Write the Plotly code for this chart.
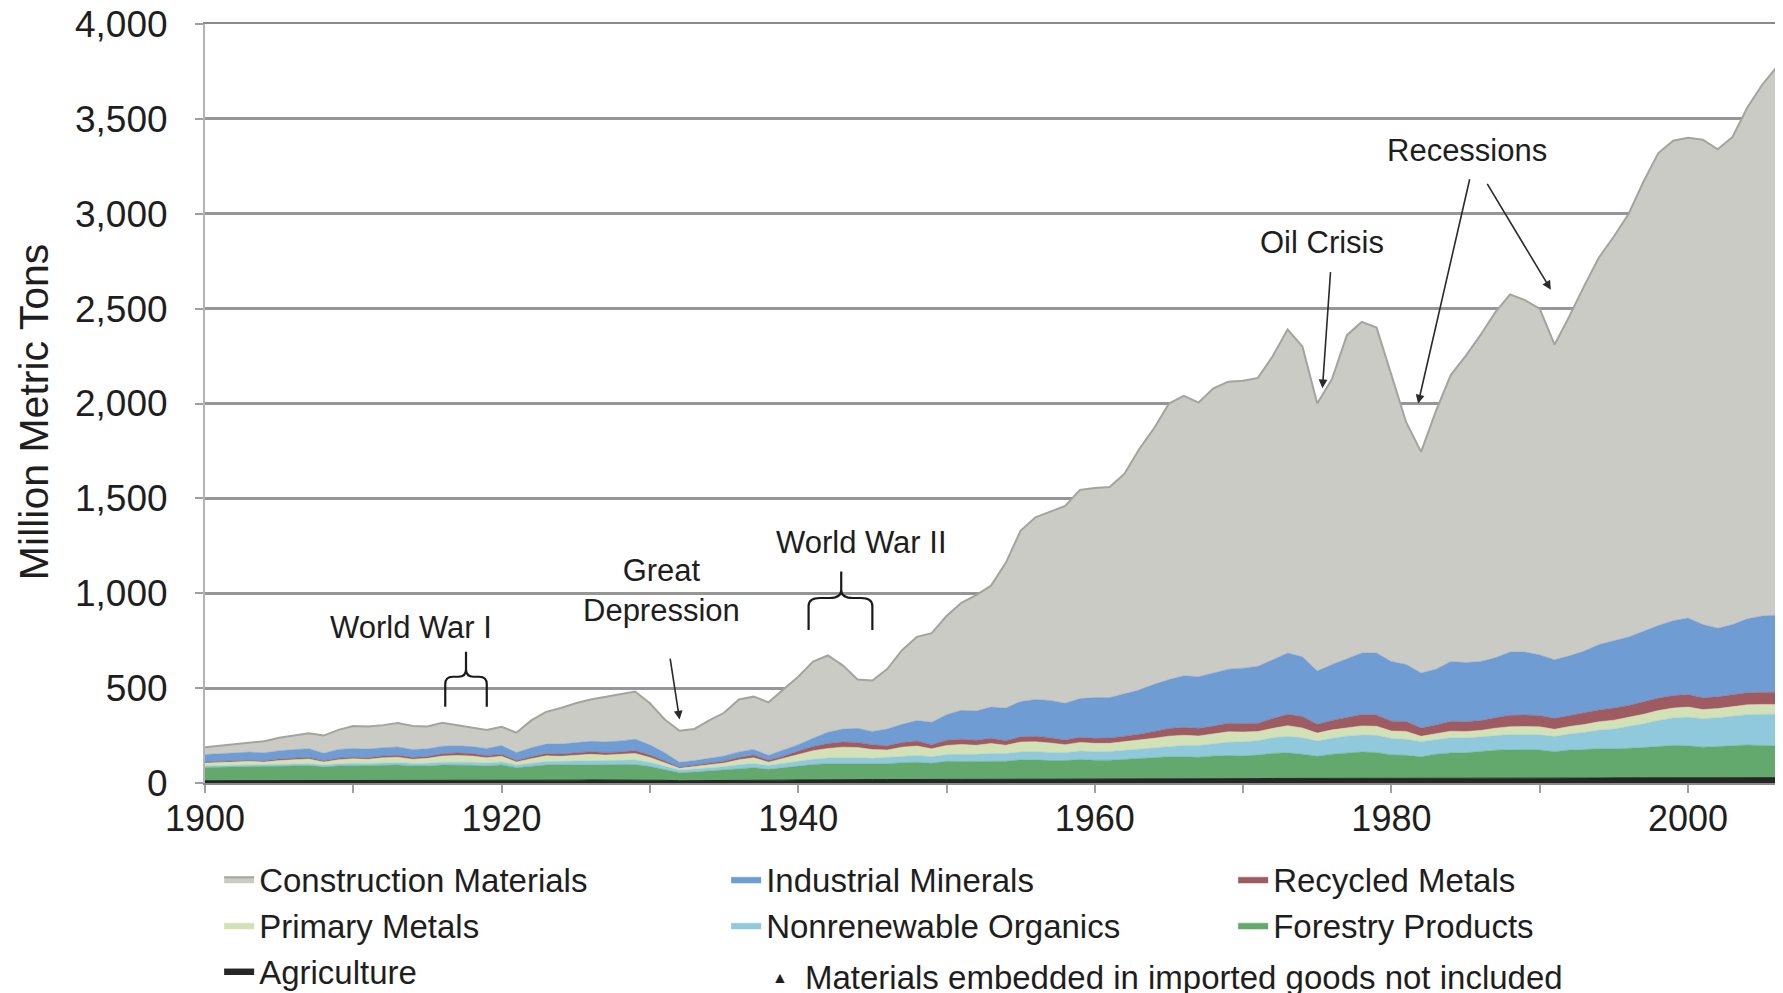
import plotly.graph_objects as go

years = list(range(1900, 2007))

agriculture = [12,12,12,13,13,13,13,14,13,14,
 14,14,15,15,14,14,15,15,15,14,
 15,13,14,15,15,15,16,16,16,16,
 15,14,12,12,13,13,14,15,14,15,
 16,17,18,18,18,18,18,19,19,18,
 19,19,19,19,19,20,20,20,20,20,
 20,20,21,21,21,22,22,22,22,23,
 23,23,24,24,24,23,24,24,25,25,
 24,24,23,24,24,24,25,25,25,26,
 26,25,26,26,26,27,27,27,27,28,
 28,27,27,28,28,28,28]

forestry = [70,71,72,73,72,75,77,78,72,76,
 78,77,79,80,76,76,80,80,78,76,
 80,68,74,80,80,80,82,80,80,82,
 72,58,42,46,50,55,62,66,58,66,
 74,80,84,84,82,80,84,88,90,86,
 95,94,94,96,96,102,102,98,98,104,
 100,100,104,108,112,116,116,114,120,122,
 120,124,132,135,128,118,128,135,138,136,
 124,122,115,128,134,135,140,148,150,150,
 148,140,148,150,155,152,155,160,165,170,
 168,162,165,168,172,170,168]

nonrenewable = [8,8,9,9,9,10,10,11,10,11,
 12,12,13,13,13,14,15,16,16,15,
 16,14,16,18,19,20,21,21,22,23,
 21,18,15,16,17,18,20,22,20,22,
 25,28,30,32,33,32,32,34,36,34,
 36,38,38,40,40,42,43,43,42,44,
 45,46,48,50,53,56,60,62,66,70,
 74,76,82,88,86,80,84,88,90,90,
 86,84,80,78,80,78,78,78,80,80,
 80,80,84,90,98,106,115,125,138,145,
 150,150,152,156,160,164,166]

primary = [15,16,18,19,17,21,23,24,16,22,
 24,22,26,28,22,26,32,34,33,28,
 30,16,24,30,27,30,32,30,32,35,
 27,18,9,13,15,19,26,30,18,25,
 35,45,50,55,54,47,40,48,50,42,
 48,52,48,53,44,52,52,50,42,46,
 44,43,44,46,50,53,54,50,50,55,
 52,48,50,55,52,42,44,44,48,48,
 40,42,28,30,35,34,34,38,42,42,
 42,38,40,42,44,46,48,50,52,52,
 54,48,48,50,52,52,52]

recycled = [5,5,6,6,6,7,7,8,6,8,
 8,8,9,10,9,10,12,13,13,11,
 11,8,10,12,12,13,14,14,14,15,
 12,8,5,7,8,10,12,14,10,13,
 18,22,26,27,27,25,22,24,26,22,
 27,28,26,28,24,28,29,28,24,27,
 27,28,30,32,36,40,42,40,42,45,
 44,44,52,60,60,46,50,55,60,60,
 52,52,44,46,52,52,52,55,60,60,
 60,58,58,60,62,64,64,66,66,66,
 66,62,62,63,64,64,64]

industrial = [40,42,43,43,42,44,46,46,40,46,
 46,46,44,44,42,40,40,38,37,38,
 45,42,48,50,52,54,55,56,58,60,
 54,44,26,24,26,27,30,30,26,34,
 34,44,60,68,74,70,88,96,108,118,
 135,152,155,164,172,186,194,196,194,204,
 214,213,223,233,248,258,271,272,280,285,
 292,300,310,323,315,281,295,309,324,326,
 314,301,290,294,315,312,311,316,333,332,
 319,309,314,327,345,355,361,372,382,394,
 404,386,361,370,389,402,407]

construction = [38,41,45,49,61,68,74,81,93,103,
 118,119,119,126,124,118,124,109,100,98,
 99,104,144,170,190,208,220,238,248,251,
 219,175,166,167,201,228,276,278,279,315,
 358,404,404,336,257,268,316,391,441,470,
 520,567,610,640,765,900,960,995,1040,1100,
 1105,1110,1160,1270,1350,1455,1475,1445,1500,1515,
 1515,1520,1600,1705,1635,1410,1505,1705,1745,1715,
 1510,1275,1165,1360,1510,1615,1720,1820,1885,1855,
 1825,1660,1790,1925,2040,2130,2230,2370,2490,2530,
 2530,2555,2525,2570,2695,2800,2890]

series = [
    ("Agriculture", agriculture, "#262626", "#262626", 1),
    ("Forestry Products", forestry, "#63a86d", "#63a86d", 0.5),
    ("Nonrenewable Organics", nonrenewable, "#90c8dc", "#90c8dc", 0.5),
    ("Primary Metals", primary, "#d3e2b6", "#d3e2b6", 0.5),
    ("Recycled Metals", recycled, "#9e5b62", "#9e5b62", 0.5),
    ("Industrial Minerals", industrial, "#6f9cd2", "#6f9cd2", 0.5),
    ("Construction Materials", construction, "#cbcbc6", "#a3a3a0", 2),
]

FONT = "Liberation Sans, Arial, sans-serif"
INK = "#1e1e1e"

fig = go.Figure()
for name, vals, fillc, linec, lw in series:
    fig.add_trace(go.Scatter(
        x=years, y=vals, name=name, mode="lines", stackgroup="one",
        fillcolor=fillc, line=dict(color=linec, width=lw),
    ))

annotations = []
def label(text, x, y, size=31):
    annotations.append(dict(x=x, y=y, xref="x", yref="y", text=text, showarrow=False,
                            xanchor="center", yanchor="middle",
                            font=dict(size=size, color=INK, family=FONT)))

label("World War I", 1913.9, 817)
label("Great<br>Depression", 1930.8, 1012)
label("World War II", 1944.3, 1270)
label("Oil Crisis", 1975.3, 2851)
label("Recessions", 1985.1, 3331)

def arrow(x, y, ax, ay):
    annotations.append(dict(x=x, y=y, ax=ax, ay=ay, xref="x", yref="y", axref="x", ayref="y",
                            text="", showarrow=True, arrowhead=2, arrowsize=1.1,
                            arrowwidth=1.6, arrowcolor="#2a2a2a", standoff=0, startstandoff=0))

arrow(1932.0, 334, 1931.35, 664)
arrow(1975.35, 2080, 1975.9, 2700)
arrow(1981.8, 2000, 1985.3, 3190)
arrow(1990.75, 2600, 1986.4, 3165)

# y-axis title
annotations.append(dict(x=-0.1086, y=0.489, xref="paper", yref="paper", text="Million Metric Tons",
                        xanchor="center", yanchor="middle",
                        textangle=-90, showarrow=False, font=dict(size=41, color=INK, family=FONT)))
# footnote
annotations.append(dict(x=0.366, y=-0.2556, xref="paper", yref="paper", text="▲",
                        xanchor="center", yanchor="middle",
                        showarrow=False, font=dict(size=16, color=INK, family=FONT)))
annotations.append(dict(x=0.3806, y=-0.2556, xref="paper", yref="paper", xanchor="left",
                        yanchor="middle",
                        text="Materials embedded in imported goods not included",
                        showarrow=False, font=dict(size=33, color=INK, family=FONT)))

def brace(xl, xc, xr, yb, yh, yt):
    e = (xr - xl) * 0.18
    d = (yh - yb) * 0.25
    return (f"M {xl},{yb} L {xl},{yh - d} Q {xl},{yh} {xl + e},{yh} L {xc - e},{yh} "
            f"Q {xc},{yh} {xc},{yh + d} L {xc},{yt} M {xc},{yh + d} Q {xc},{yh} {xc + e},{yh} "
            f"L {xr - e},{yh} Q {xr},{yh} {xr},{yh - d} L {xr},{yb}")

shapes = [
    dict(type="path", xref="x", yref="y", path=brace(1916.2, 1917.6, 1919.0, 402, 560, 692),
         line=dict(color="#1a1a1a", width=2.2)),
    dict(type="path", xref="x", yref="y", path=brace(1940.7, 1942.9, 1945.0, 806, 975, 1114),
         line=dict(color="#1a1a1a", width=2.2)),
]

fig.update_layout(
    width=1783, height=993,
    margin=dict(l=197, r=14, t=16, b=218, autoexpand=False),
    paper_bgcolor="white", plot_bgcolor="white",
    font=dict(family=FONT, size=34, color=INK),
    showlegend=True,
    legend=dict(orientation="h", x=0.009, y=-0.09, xanchor="left", yanchor="top",
                traceorder="reversed", entrywidth=462, entrywidthmode="pixels",
                font=dict(size=33, color=INK, family=FONT), itemwidth=30,
                bgcolor="rgba(0,0,0,0)"),
    annotations=annotations,
    shapes=shapes,
    hovermode="x unified",
)
fig.update_xaxes(range=[1900, 2006], tick0=1900, dtick=20, ticks="outside", ticklen=8,
                 tickcolor="#a0a0a0", tickwidth=2, showgrid=False, showline=True,
                 linecolor="#8a8a8a", linewidth=2, mirror=True, zeroline=False,
                 minor=dict(dtick=10, ticks="outside", ticklen=8, tickcolor="#a0a0a0", tickwidth=2),
                 tickfont=dict(size=36, color=INK, family=FONT), ticklabelstandoff=-5,
                 ticklabeloverflow="allow")
fig.update_yaxes(range=[0, 4000], tick0=0, dtick=500, tickformat=",", ticks="outside", ticklen=8,
                 tickcolor="#a0a0a0", tickwidth=2, showgrid=True, gridcolor="#969696", gridwidth=2.5,
                 showline=True, linecolor="#b4b4b4", linewidth=2, mirror=True, zeroline=False,
                 tickfont=dict(size=37, color=INK, family=FONT), ticklabelstandoff=20,
                 ticklabeloverflow="allow")

fig.write_html("out.html")
